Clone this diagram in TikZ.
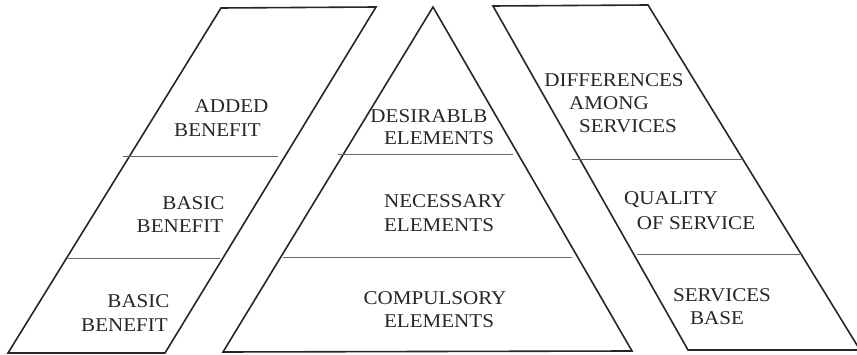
\documentclass[tikz,border=0pt]{standalone}
\usepackage{fontspec}
\setmainfont{Liberation Serif}[FakeStretch=1.08]
\begin{document}
\begin{tikzpicture}[x=1pt,y=-1pt,
  outline/.style={draw=black!85, line width=1.6pt, line join=miter},
  divider/.style={draw=black!60, line width=0.8pt},
  lbl/.style={anchor=base, inner sep=0pt, text=black!85, font=\fontsize{19.5}{23.5}\selectfont}]
\useasboundingbox (0,0) rectangle (857,355);
% left parallelogram
\draw[outline] (221,8) -- (376,7) -- (165,353) -- (8,353) -- cycle;
\draw[divider] (123,156) -- (278,156);
\draw[divider] (68,258) -- (220,258);
% triangle
\draw[outline] (433,7) -- (632,351) -- (223,352) -- cycle;
\draw[divider] (338,154) -- (513,154);
\draw[divider] (283,257) -- (572,257);
% right parallelogram
\draw[outline] (493,6) -- (648,5) -- (860,350) -- (688,350) -- cycle;
\draw[divider] (572,159) -- (743,159);
\draw[divider] (637,254) -- (803,254);
% left labels
\node[lbl] (l1a) at (231.5,113) {ADDED};
\node[lbl] (l1b) at (217.5,137) {BENEFIT};
\node[lbl] (l2a) at (193.5,210) {BASIC};
\node[lbl] (l2b) at (180,233) {BENEFIT};
\node[lbl] (l3a) at (138.5,308) {BASIC};
\node[lbl] (l3b) at (124.5,332) {BENEFIT};
% triangle labels
\node[lbl] (t1a) at (429,123) {DESIRABLB};
\node[lbl] (t1b) at (439,145) {ELEMENTS};
\node[lbl] (t2a) at (445,208) {NECESSARY};
\node[lbl] (t2b) at (439,232) {ELEMENTS};
\node[lbl] (t3a) at (435,305) {COMPULSORY};
\node[lbl] (t3b) at (439,328) {ELEMENTS};
% right labels
\node[lbl] (r1a) at (614,87) {DIFFERENCES};
\node[lbl] (r1b) at (609,110) {AMONG};
\node[lbl] (r1c) at (628,133) {SERVICES};
\node[lbl] (r2a) at (671,205) {QUALITY};
\node[lbl] (r2b) at (696,230) {OF SERVICE};
\node[lbl] (r3a) at (722,302) {SERVICES};
\node[lbl] (r3b) at (717,325) {BASE};
\end{tikzpicture}
\end{document}
